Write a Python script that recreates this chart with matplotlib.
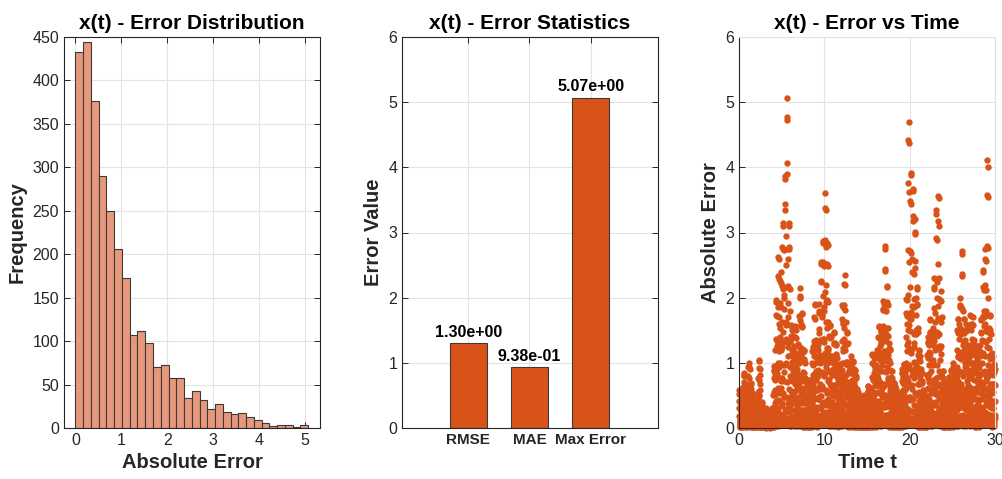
import numpy as np
import matplotlib
matplotlib.use("Agg")
import matplotlib.pyplot as plt

plt.rcParams['font.family'] = ['Liberation Sans', 'DejaVu Sans']

# ---- data ----
title_name = "x(t)"

# histogram of absolute error: 30 bins between 0 and max error
hist_max = 5.07
hist_counts = [433, 444, 376, 290, 250, 206, 173, 107, 112, 98,
               70, 72, 57, 58, 34, 43, 32, 22, 28, 18,
               16, 17, 13, 9, 6, 2, 3, 3, 1, 3]

stat_names = ["RMSE", "MAE", "Max Error"]
stat_values = [1.30, 0.938, 5.07]

# absolute error vs time, two interleaved sample sets every 0.025 (one row = 1 s)
t_step = 0.025
t_start_a = 0.0
err_rows_a = [
    [0.58, 0.52, 0.41, 0.30, 0.18, 0.07, 0.02, 0.10, 0.20, 0.27, 0.33, 0.38, 0.40, 0.36, 0.29, 0.20, 0.10, 0.03, 0.08, 0.22,
     0.38, 0.55, 0.70, 0.81, 0.85, 0.80, 0.66, 0.48, 0.28, 0.08, 0.05, 0.18, 0.32, 0.43, 0.50, 0.47, 0.38, 0.25, 0.12, 0.03],
    [0.05, 0.32, 0.58, 0.80, 0.94, 1.00, 0.93, 0.77, 0.54, 0.26, 0.08, 0.29, 0.48, 0.61, 0.69, 0.68, 0.60, 0.47, 0.29, 0.11,
     0.01, 0.11, 0.24, 0.35, 0.44, 0.50, 0.49, 0.43, 0.32, 0.18, 0.02, 0.11, 0.20, 0.28, 0.33, 0.35, 0.33, 0.27, 0.19, 0.09],
    [0.05, 0.19, 0.31, 0.39, 0.44, 0.44, 0.39, 0.30, 0.19, 0.07, 0.02, 0.23, 0.49, 0.74, 0.92, 1.04, 1.03, 0.90, 0.67, 0.37,
     0.02, 0.13, 0.23, 0.32, 0.38, 0.40, 0.37, 0.31, 0.22, 0.10, 0.04, 0.13, 0.20, 0.26, 0.29, 0.29, 0.26, 0.20, 0.13, 0.05],
    [0.01, 0.07, 0.14, 0.21, 0.26, 0.30, 0.29, 0.26, 0.19, 0.11, 0.01, 0.08, 0.15, 0.20, 0.24, 0.25, 0.23, 0.19, 0.14, 0.07,
     0.02, 0.08, 0.14, 0.17, 0.20, 0.19, 0.17, 0.13, 0.08, 0.03, 0.01, 0.07, 0.14, 0.21, 0.26, 0.30, 0.29, 0.26, 0.19, 0.11],
    [0.05, 0.30, 0.55, 0.76, 0.89, 0.95, 0.88, 0.73, 0.51, 0.25, 0.24, 0.84, 1.36, 1.74, 1.96, 1.94, 1.72, 1.34, 0.84, 0.30,
     0.05, 0.58, 1.25, 1.86, 2.33, 2.62, 2.60, 2.28, 1.70, 0.93, 0.12, 0.77, 1.39, 1.92, 2.26, 2.40, 2.23, 1.85, 1.30, 0.62],
    [0.38, 1.34, 2.18, 2.78, 3.14, 3.10, 2.75, 2.14, 1.34, 0.48, 0.08, 0.86, 1.83, 2.73, 3.43, 3.86, 3.82, 3.35, 2.50, 1.37,
     0.25, 1.62, 2.94, 4.06, 4.77, 5.07, 4.72, 3.90, 2.74, 1.32, 0.38, 1.34, 2.18, 2.78, 3.14, 3.10, 2.75, 2.14, 1.34, 0.48],
    [0.03, 0.35, 0.75, 1.12, 1.41, 1.58, 1.57, 1.38, 1.02, 0.56, 0.08, 0.48, 0.87, 1.20, 1.41, 1.50, 1.40, 1.16, 0.81, 0.39,
     0.19, 0.67, 1.09, 1.39, 1.57, 1.55, 1.38, 1.07, 0.67, 0.24, 0.03, 0.29, 0.61, 0.91, 1.14, 1.29, 1.27, 1.12, 0.83, 0.46],
    [0.11, 0.69, 1.25, 1.72, 2.02, 2.15, 2.00, 1.66, 1.16, 0.56, 0.22, 0.76, 1.22, 1.57, 1.76, 1.75, 1.55, 1.21, 0.76, 0.27,
     0.02, 0.26, 0.56, 0.84, 1.06, 1.19, 1.18, 1.03, 0.77, 0.42, 0.04, 0.24, 0.44, 0.60, 0.71, 0.75, 0.70, 0.58, 0.41, 0.20],
    [0.08, 0.29, 0.48, 0.61, 0.69, 0.68, 0.60, 0.47, 0.29, 0.11, 0.02, 0.17, 0.35, 0.53, 0.66, 0.74, 0.74, 0.65, 0.48, 0.26,
     0.06, 0.40, 0.73, 1.00, 1.18, 1.25, 1.16, 0.96, 0.68, 0.33, 0.23, 0.82, 1.33, 1.70, 1.91, 1.89, 1.68, 1.31, 0.82, 0.29],
    [0.03, 0.28, 0.59, 0.88, 1.10, 1.24, 1.23, 1.08, 0.80, 0.44, 0.10, 0.61, 1.10, 1.52, 1.79, 1.90, 1.77, 1.46, 1.03, 0.49,
     0.31, 1.09, 1.77, 2.26, 2.55, 2.52, 2.24, 1.74, 1.09, 0.39, 0.06, 0.64, 1.36, 2.03, 2.55, 2.87, 2.84, 2.49, 1.86, 1.02],
    [0.18, 1.15, 2.09, 2.88, 3.38, 3.60, 3.35, 2.77, 1.94, 0.94, 0.35, 1.22, 1.97, 2.52, 2.84, 2.81, 2.49, 1.94, 1.22, 0.44,
     0.03, 0.35, 0.75, 1.12, 1.41, 1.58, 1.57, 1.38, 1.02, 0.56, 0.06, 0.35, 0.64, 0.88, 1.03, 1.10, 1.02, 0.85, 0.59, 0.29],
    [0.18, 0.63, 1.02, 1.31, 1.47, 1.46, 1.29, 1.01, 0.63, 0.23, 0.03, 0.29, 0.61, 0.91, 1.14, 1.29, 1.27, 1.12, 0.83, 0.46,
     0.05, 0.29, 0.52, 0.72, 0.85, 0.90, 0.84, 0.69, 0.49, 0.23, 0.12, 0.42, 0.68, 0.87, 0.98, 0.97, 0.86, 0.67, 0.42, 0.15],
    [0.04, 0.42, 0.89, 1.33, 1.67, 1.88, 1.86, 1.63, 1.22, 0.67, 0.12, 0.75, 1.36, 1.88, 2.21, 2.35, 2.19, 1.81, 1.27, 0.61,
     0.18, 0.63, 1.02, 1.31, 1.47, 1.46, 1.29, 1.01, 0.63, 0.23, 0.02, 0.22, 0.47, 0.70, 0.88, 0.99, 0.98, 0.86, 0.64, 0.35],
    [0.06, 0.35, 0.64, 0.88, 1.03, 1.10, 1.02, 0.85, 0.59, 0.29, 0.13, 0.44, 0.71, 0.91, 1.03, 1.02, 0.90, 0.70, 0.44, 0.16,
     0.02, 0.20, 0.42, 0.63, 0.79, 0.89, 0.88, 0.77, 0.58, 0.32, 0.03, 0.19, 0.35, 0.48, 0.56, 0.60, 0.56, 0.46, 0.32, 0.16],
    [0.06, 0.21, 0.34, 0.44, 0.49, 0.49, 0.43, 0.34, 0.21, 0.08, 0.01, 0.09, 0.19, 0.28, 0.35, 0.40, 0.39, 0.34, 0.26, 0.14,
     0.03, 0.16, 0.29, 0.40, 0.47, 0.50, 0.47, 0.39, 0.27, 0.13, 0.04, 0.13, 0.20, 0.26, 0.29, 0.29, 0.26, 0.20, 0.13, 0.05],
    [0.01, 0.14, 0.31, 0.46, 0.57, 0.64, 0.64, 0.56, 0.42, 0.23, 0.03, 0.19, 0.35, 0.48, 0.56, 0.60, 0.56, 0.46, 0.32, 0.16,
     0.14, 0.48, 0.78, 1.00, 1.13, 1.12, 0.99, 0.77, 0.48, 0.17, 0.02, 0.24, 0.52, 0.77, 0.97, 1.09, 1.08, 0.95, 0.70, 0.39],
    [0.06, 0.38, 0.70, 0.96, 1.13, 1.20, 1.12, 0.92, 0.65, 0.31, 0.19, 0.67, 1.09, 1.39, 1.57, 1.55, 1.38, 1.07, 0.67, 0.24,
     0.03, 0.33, 0.71, 1.05, 1.32, 1.49, 1.47, 1.29, 0.96, 0.53, 0.10, 0.62, 1.13, 1.56, 1.83, 1.95, 1.81, 1.50, 1.05, 0.51],
    [0.34, 1.18, 1.90, 2.44, 2.74, 2.80, 2.41, 1.88, 1.18, 0.42, 0.04, 0.48, 1.03, 1.54, 1.94, 2.18, 2.16, 1.89, 1.41, 0.77,
     0.07, 0.42, 0.75, 1.04, 1.22, 1.30, 1.21, 1.00, 0.70, 0.34, 0.11, 0.38, 0.61, 0.78, 0.88, 0.87, 0.77, 0.60, 0.38, 0.14],
    [0.01, 0.15, 0.33, 0.49, 0.62, 0.69, 0.69, 0.60, 0.45, 0.25, 0.03, 0.19, 0.35, 0.48, 0.56, 0.60, 0.56, 0.46, 0.32, 0.16,
     0.06, 0.21, 0.34, 0.44, 0.49, 0.49, 0.43, 0.34, 0.21, 0.08, 0.01, 0.12, 0.26, 0.39, 0.48, 0.54, 0.54, 0.47, 0.35, 0.19],
    [0.05, 0.29, 0.52, 0.72, 0.85, 0.90, 0.84, 0.69, 0.49, 0.23, 0.12, 0.42, 0.68, 0.87, 0.98, 0.97, 0.86, 0.67, 0.42, 0.15,
     0.04, 0.44, 0.94, 1.40, 1.76, 1.98, 1.96, 1.72, 1.28, 0.70, 0.24, 1.50, 2.73, 3.76, 4.42, 4.70, 4.37, 3.62, 2.54, 1.22],
    [0.48, 1.68, 2.72, 3.48, 3.92, 3.88, 3.44, 2.68, 1.68, 0.60, 0.07, 0.81, 1.74, 2.59, 3.26, 3.66, 3.63, 3.18, 2.37, 1.30,
     0.16, 1.02, 1.86, 2.56, 3.01, 3.20, 2.98, 2.46, 1.73, 0.83, 0.26, 0.92, 1.50, 1.91, 2.16, 2.13, 1.89, 1.47, 0.92, 0.33],
    [0.02, 0.26, 0.56, 0.84, 1.06, 1.19, 1.18, 1.03, 0.77, 0.42, 0.05, 0.29, 0.52, 0.72, 0.85, 0.90, 0.84, 0.69, 0.49, 0.23,
     0.07, 0.25, 0.41, 0.52, 0.59, 0.58, 0.52, 0.40, 0.25, 0.09, 0.01, 0.08, 0.16, 0.25, 0.31, 0.35, 0.34, 0.30, 0.22, 0.12],
    [0.07, 0.45, 0.81, 1.12, 1.32, 1.40, 1.30, 1.08, 0.76, 0.36, 0.20, 0.71, 1.16, 1.48, 1.67, 1.65, 1.46, 1.14, 0.71, 0.26,
     0.03, 0.33, 0.71, 1.05, 1.32, 1.49, 1.47, 1.29, 0.96, 0.53, 0.12, 0.74, 1.33, 1.84, 2.16, 2.30, 2.14, 1.77, 1.24, 0.60],
    [0.40, 1.41, 2.28, 2.91, 3.28, 3.35, 2.88, 2.24, 1.41, 0.50, 0.07, 0.79, 1.69, 2.52, 3.17, 3.56, 3.53, 3.10, 2.30, 1.26,
     0.11, 0.67, 1.22, 1.68, 1.97, 2.10, 1.95, 1.62, 1.13, 0.55, 0.11, 0.38, 0.61, 0.78, 0.88, 0.87, 0.77, 0.60, 0.38, 0.14],
    [0.01, 0.15, 0.33, 0.49, 0.62, 0.69, 0.69, 0.60, 0.45, 0.25, 0.03, 0.19, 0.35, 0.48, 0.56, 0.60, 0.56, 0.46, 0.32, 0.16,
     0.10, 0.34, 0.54, 0.70, 0.78, 0.78, 0.69, 0.54, 0.34, 0.12, 0.02, 0.20, 0.42, 0.63, 0.79, 0.89, 0.88, 0.77, 0.58, 0.32],
    [0.05, 0.32, 0.58, 0.80, 0.94, 1.00, 0.93, 0.77, 0.54, 0.26, 0.11, 0.38, 0.61, 0.78, 0.88, 0.87, 0.77, 0.60, 0.38, 0.14,
     0.03, 0.37, 0.80, 1.19, 1.50, 1.68, 1.67, 1.46, 1.09, 0.60, 0.10, 0.64, 1.16, 1.60, 1.88, 2.00, 1.86, 1.54, 1.08, 0.52],
    [0.33, 1.14, 1.85, 2.37, 2.67, 2.72, 2.34, 1.82, 1.14, 0.41, 0.03, 0.37, 0.80, 1.19, 1.50, 1.68, 1.67, 1.46, 1.09, 0.60,
     0.08, 0.51, 0.93, 1.28, 1.50, 1.60, 1.49, 1.23, 0.86, 0.42, 0.16, 0.55, 0.88, 1.13, 1.27, 1.26, 1.12, 0.87, 0.55, 0.20],
    [0.04, 0.39, 0.82, 1.23, 1.54, 1.73, 1.72, 1.51, 1.12, 0.61, 0.09, 0.54, 0.99, 1.36, 1.60, 1.70, 1.58, 1.31, 0.92, 0.44,
     0.16, 0.55, 0.88, 1.13, 1.27, 1.26, 1.12, 0.87, 0.55, 0.20, 0.02, 0.26, 0.56, 0.84, 1.06, 1.19, 1.18, 1.03, 0.77, 0.42],
    [0.06, 0.38, 0.70, 0.96, 1.13, 1.20, 1.12, 0.92, 0.65, 0.31, 0.20, 0.71, 1.16, 1.48, 1.67, 1.65, 1.46, 1.14, 0.71, 0.26,
     0.05, 0.54, 1.15, 1.72, 2.16, 2.43, 2.40, 2.11, 1.57, 0.86, 0.14, 0.88, 1.60, 2.20, 2.59, 2.75, 2.56, 2.12, 1.49, 0.72],
    [0.49, 1.73, 2.80, 3.58, 4.12, 4.00, 3.54, 2.76, 1.73, 0.62, 0.04, 0.39, 0.82, 1.23, 1.54, 1.73, 1.72, 1.51, 1.12, 0.61,
     0.06, 0.37, 0.67, 0.92, 1.08, 1.15, 1.07, 0.89, 0.62, 0.30, 0.12, 0.42, 0.68, 0.87, 0.98, 0.97, 0.86, 0.67, 0.42, 0.15],
    [0.20],
]

t_start_b = 0.0125
err_rows_b = [
    [0.31, 0.19, 0.09, 0.03, 0.01, 0.06, 0.14, 0.24, 0.37, 0.50, 0.60, 0.39, 0.21, 0.08, 0.02, 0.05, 0.14, 0.28, 0.46, 0.63,
     0.37, 0.23, 0.11, 0.03, 0.01, 0.07, 0.16, 0.29, 0.44, 0.60, 0.38, 0.25, 0.14, 0.05, 0.01, 0.03, 0.09, 0.18, 0.30, 0.41],
    [0.56, 0.34, 0.16, 0.05, 0.02, 0.10, 0.24, 0.43, 0.67, 0.90, 0.51, 0.33, 0.18, 0.07, 0.02, 0.04, 0.12, 0.24, 0.40, 0.54,
     0.28, 0.17, 0.08, 0.02, 0.01, 0.05, 0.12, 0.22, 0.33, 0.45, 0.34, 0.22, 0.12, 0.05, 0.01, 0.03, 0.08, 0.16, 0.26, 0.36],
    [0.34, 0.21, 0.10, 0.03, 0.01, 0.06, 0.15, 0.26, 0.41, 0.55, 0.77, 0.50, 0.27, 0.11, 0.03, 0.06, 0.18, 0.36, 0.59, 0.81,
     0.25, 0.15, 0.07, 0.02, 0.01, 0.04, 0.11, 0.19, 0.30, 0.40, 0.26, 0.17, 0.09, 0.04, 0.01, 0.02, 0.06, 0.12, 0.20, 0.27],
    [0.12, 0.08, 0.04, 0.01, 0.00, 0.02, 0.05, 0.10, 0.15, 0.20, 0.21, 0.14, 0.08, 0.03, 0.01, 0.02, 0.05, 0.10, 0.17, 0.23,
     0.12, 0.08, 0.04, 0.01, 0.00, 0.02, 0.05, 0.10, 0.15, 0.20, 0.21, 0.14, 0.08, 0.03, 0.01, 0.02, 0.05, 0.10, 0.17, 0.23],
    [0.50, 0.30, 0.14, 0.04, 0.02, 0.09, 0.22, 0.38, 0.59, 0.80, 1.19, 0.77, 0.42, 0.17, 0.04, 0.10, 0.28, 0.56, 0.92, 1.26,
     0.99, 0.61, 0.29, 0.08, 0.03, 0.18, 0.43, 0.77, 1.18, 1.60, 1.53, 0.99, 0.54, 0.22, 0.05, 0.13, 0.36, 0.72, 1.19, 1.62],
    [1.24, 0.76, 0.36, 0.10, 0.04, 0.22, 0.54, 0.96, 1.48, 2.00, 2.04, 1.32, 0.72, 0.29, 0.07, 0.17, 0.48, 0.96, 1.58, 2.16,
     1.61, 0.99, 0.47, 0.13, 0.05, 0.29, 0.70, 1.25, 1.92, 2.60, 1.70, 1.10, 0.60, 0.24, 0.06, 0.14, 0.40, 0.80, 1.32, 1.80],
    [0.93, 0.57, 0.27, 0.08, 0.03, 0.17, 0.41, 0.72, 1.11, 1.50, 1.19, 0.77, 0.42, 0.17, 0.04, 0.10, 0.28, 0.56, 0.92, 1.26,
     0.93, 0.57, 0.27, 0.08, 0.03, 0.17, 0.41, 0.72, 1.11, 1.50, 1.02, 0.66, 0.36, 0.14, 0.04, 0.08, 0.24, 0.48, 0.79, 1.08],
    [0.99, 0.61, 0.29, 0.08, 0.03, 0.18, 0.43, 0.77, 1.18, 1.60, 1.11, 0.72, 0.39, 0.16, 0.04, 0.09, 0.26, 0.52, 0.86, 1.17,
     0.62, 0.38, 0.18, 0.05, 0.02, 0.11, 0.27, 0.48, 0.74, 1.00, 0.60, 0.39, 0.21, 0.08, 0.02, 0.05, 0.14, 0.28, 0.46, 0.63],
    [0.43, 0.27, 0.13, 0.04, 0.01, 0.08, 0.19, 0.34, 0.52, 0.70, 0.51, 0.33, 0.18, 0.07, 0.02, 0.04, 0.12, 0.24, 0.40, 0.54,
     0.68, 0.42, 0.20, 0.06, 0.02, 0.12, 0.30, 0.53, 0.81, 1.10, 1.28, 0.83, 0.45, 0.18, 0.05, 0.11, 0.30, 0.60, 0.99, 1.35],
    [0.74, 0.46, 0.22, 0.06, 0.02, 0.13, 0.32, 0.58, 0.89, 1.20, 1.28, 0.83, 0.45, 0.18, 0.05, 0.11, 0.30, 0.60, 0.99, 1.35,
     1.12, 0.68, 0.32, 0.09, 0.04, 0.20, 0.49, 0.86, 1.33, 1.80, 1.70, 1.10, 0.60, 0.24, 0.06, 0.14, 0.40, 0.80, 1.32, 1.80],
    [1.36, 0.84, 0.40, 0.11, 0.04, 0.24, 0.59, 1.06, 1.63, 2.20, 1.53, 0.99, 0.54, 0.22, 0.05, 0.13, 0.36, 0.72, 1.19, 1.62,
     0.87, 0.53, 0.25, 0.07, 0.03, 0.15, 0.38, 0.67, 1.04, 1.40, 0.85, 0.55, 0.30, 0.12, 0.03, 0.07, 0.20, 0.40, 0.66, 0.90],
    [0.81, 0.49, 0.23, 0.07, 0.03, 0.14, 0.35, 0.62, 0.96, 1.30, 1.02, 0.66, 0.36, 0.14, 0.04, 0.08, 0.24, 0.48, 0.79, 1.08,
     0.56, 0.34, 0.16, 0.05, 0.02, 0.10, 0.24, 0.43, 0.67, 0.90, 0.77, 0.50, 0.27, 0.11, 0.03, 0.06, 0.18, 0.36, 0.59, 0.81],
    [0.99, 0.61, 0.29, 0.08, 0.03, 0.18, 0.43, 0.77, 1.18, 1.60, 1.53, 0.99, 0.54, 0.22, 0.05, 0.13, 0.36, 0.72, 1.19, 1.62,
     0.81, 0.49, 0.23, 0.07, 0.03, 0.14, 0.35, 0.62, 0.96, 1.30, 0.85, 0.55, 0.30, 0.12, 0.03, 0.07, 0.20, 0.40, 0.66, 0.90],
    [0.62, 0.38, 0.18, 0.05, 0.02, 0.11, 0.27, 0.48, 0.74, 1.00, 0.85, 0.55, 0.30, 0.12, 0.03, 0.07, 0.20, 0.40, 0.66, 0.90,
     0.50, 0.30, 0.14, 0.04, 0.02, 0.09, 0.22, 0.38, 0.59, 0.80, 0.51, 0.33, 0.18, 0.07, 0.02, 0.04, 0.12, 0.24, 0.40, 0.54],
    [0.28, 0.17, 0.08, 0.02, 0.01, 0.05, 0.12, 0.22, 0.33, 0.45, 0.34, 0.22, 0.12, 0.05, 0.01, 0.03, 0.08, 0.16, 0.26, 0.36,
     0.28, 0.17, 0.08, 0.02, 0.01, 0.05, 0.12, 0.22, 0.33, 0.45, 0.26, 0.17, 0.09, 0.04, 0.01, 0.02, 0.06, 0.12, 0.20, 0.27],
    [0.37, 0.23, 0.11, 0.03, 0.01, 0.07, 0.16, 0.29, 0.44, 0.60, 0.47, 0.30, 0.17, 0.07, 0.02, 0.04, 0.11, 0.22, 0.36, 0.50,
     0.62, 0.38, 0.18, 0.05, 0.02, 0.11, 0.27, 0.48, 0.74, 1.00, 0.85, 0.55, 0.30, 0.12, 0.03, 0.07, 0.20, 0.40, 0.66, 0.90],
    [0.68, 0.42, 0.20, 0.06, 0.02, 0.12, 0.30, 0.53, 0.81, 1.10, 1.19, 0.77, 0.42, 0.17, 0.04, 0.10, 0.28, 0.56, 0.92, 1.26,
     0.87, 0.53, 0.25, 0.07, 0.03, 0.15, 0.38, 0.67, 1.04, 1.40, 1.36, 0.88, 0.48, 0.19, 0.05, 0.11, 0.32, 0.64, 1.06, 1.44],
    [1.12, 0.68, 0.32, 0.09, 0.04, 0.20, 0.49, 0.86, 1.33, 1.80, 1.45, 0.94, 0.51, 0.20, 0.05, 0.12, 0.34, 0.68, 1.12, 1.53,
     0.74, 0.46, 0.22, 0.06, 0.02, 0.13, 0.32, 0.58, 0.89, 1.20, 0.68, 0.44, 0.24, 0.10, 0.02, 0.06, 0.16, 0.32, 0.53, 0.72],
    [0.40, 0.25, 0.12, 0.03, 0.01, 0.07, 0.18, 0.31, 0.48, 0.65, 0.47, 0.30, 0.17, 0.07, 0.02, 0.04, 0.11, 0.22, 0.36, 0.50,
     0.31, 0.19, 0.09, 0.03, 0.01, 0.06, 0.14, 0.24, 0.37, 0.50, 0.43, 0.28, 0.15, 0.06, 0.02, 0.04, 0.10, 0.20, 0.33, 0.45],
    [0.50, 0.30, 0.14, 0.04, 0.02, 0.09, 0.22, 0.38, 0.59, 0.80, 0.77, 0.50, 0.27, 0.11, 0.03, 0.06, 0.18, 0.36, 0.59, 0.81,
     0.99, 0.61, 0.29, 0.08, 0.03, 0.18, 0.43, 0.77, 1.18, 1.60, 2.04, 1.32, 0.72, 0.29, 0.07, 0.17, 0.48, 0.96, 1.58, 2.16],
    [1.49, 0.91, 0.43, 0.12, 0.05, 0.26, 0.65, 1.15, 1.78, 2.40, 1.87, 1.21, 0.66, 0.26, 0.07, 0.15, 0.44, 0.88, 1.45, 1.98,
     1.24, 0.76, 0.36, 0.10, 0.04, 0.22, 0.54, 0.96, 1.48, 2.00, 1.45, 0.94, 0.51, 0.20, 0.05, 0.12, 0.34, 0.68, 1.12, 1.53],
    [0.68, 0.42, 0.20, 0.06, 0.02, 0.12, 0.30, 0.53, 0.81, 1.10, 0.68, 0.44, 0.24, 0.10, 0.02, 0.06, 0.16, 0.32, 0.53, 0.72,
     0.34, 0.21, 0.10, 0.03, 0.01, 0.06, 0.15, 0.26, 0.41, 0.55, 0.30, 0.19, 0.11, 0.04, 0.01, 0.02, 0.07, 0.14, 0.23, 0.32],
    [0.81, 0.49, 0.23, 0.07, 0.03, 0.14, 0.35, 0.62, 0.96, 1.30, 1.28, 0.83, 0.45, 0.18, 0.05, 0.11, 0.30, 0.60, 0.99, 1.35,
     0.87, 0.53, 0.25, 0.07, 0.03, 0.15, 0.38, 0.67, 1.04, 1.40, 1.53, 0.99, 0.54, 0.22, 0.05, 0.13, 0.36, 0.72, 1.19, 1.62],
    [1.24, 0.76, 0.36, 0.10, 0.04, 0.22, 0.54, 0.96, 1.48, 2.00, 1.87, 1.21, 0.66, 0.26, 0.07, 0.15, 0.44, 0.88, 1.45, 1.98,
     1.05, 0.65, 0.31, 0.09, 0.03, 0.19, 0.46, 0.82, 1.26, 1.70, 0.68, 0.44, 0.24, 0.10, 0.02, 0.06, 0.16, 0.32, 0.53, 0.72],
    [0.40, 0.25, 0.12, 0.03, 0.01, 0.07, 0.18, 0.31, 0.48, 0.65, 0.51, 0.33, 0.18, 0.07, 0.02, 0.04, 0.12, 0.24, 0.40, 0.54,
     0.47, 0.29, 0.14, 0.04, 0.02, 0.08, 0.20, 0.36, 0.56, 0.75, 0.72, 0.47, 0.26, 0.10, 0.03, 0.06, 0.17, 0.34, 0.56, 0.77],
    [0.56, 0.34, 0.16, 0.05, 0.02, 0.10, 0.24, 0.43, 0.67, 0.90, 0.72, 0.47, 0.26, 0.10, 0.03, 0.06, 0.17, 0.34, 0.56, 0.77,
     0.93, 0.57, 0.27, 0.08, 0.03, 0.17, 0.41, 0.72, 1.11, 1.50, 1.36, 0.88, 0.48, 0.19, 0.05, 0.11, 0.32, 0.64, 1.06, 1.44],
    [1.12, 0.68, 0.32, 0.09, 0.04, 0.20, 0.49, 0.86, 1.33, 1.80, 1.28, 0.83, 0.45, 0.18, 0.05, 0.11, 0.30, 0.60, 0.99, 1.35,
     0.93, 0.57, 0.27, 0.08, 0.03, 0.17, 0.41, 0.72, 1.11, 1.50, 1.02, 0.66, 0.36, 0.14, 0.04, 0.08, 0.24, 0.48, 0.79, 1.08],
    [0.99, 0.61, 0.29, 0.08, 0.03, 0.18, 0.43, 0.77, 1.18, 1.60, 1.28, 0.83, 0.45, 0.18, 0.05, 0.11, 0.30, 0.60, 0.99, 1.35,
     0.74, 0.46, 0.22, 0.06, 0.02, 0.13, 0.32, 0.58, 0.89, 1.20, 0.94, 0.61, 0.33, 0.13, 0.03, 0.08, 0.22, 0.44, 0.73, 0.99],
    [0.68, 0.42, 0.20, 0.06, 0.02, 0.12, 0.30, 0.53, 0.81, 1.10, 1.28, 0.83, 0.45, 0.18, 0.05, 0.11, 0.30, 0.60, 0.99, 1.35,
     1.12, 0.68, 0.32, 0.09, 0.04, 0.20, 0.49, 0.86, 1.33, 1.80, 1.70, 1.10, 0.60, 0.24, 0.06, 0.14, 0.40, 0.80, 1.32, 1.80],
    [1.24, 0.76, 0.36, 0.10, 0.04, 0.22, 0.54, 0.96, 1.48, 2.00, 1.36, 0.88, 0.48, 0.19, 0.05, 0.11, 0.32, 0.64, 1.06, 1.44,
     0.68, 0.42, 0.20, 0.06, 0.02, 0.12, 0.30, 0.53, 0.81, 1.10, 0.85, 0.55, 0.30, 0.12, 0.03, 0.07, 0.20, 0.40, 0.66, 0.90],
]

# ---- styling ----
orange = "#D95319"
hist_face = "#E8987A"
tick_col = "#262626"
grid_col = "#E3E3E3"

err_a = np.concatenate([np.array(r) for r in err_rows_a])
err_b = np.concatenate([np.array(r) for r in err_rows_b])
t_a = t_start_a + t_step * np.arange(len(err_a))
t_b = t_start_b + t_step * np.arange(len(err_b))
t = np.concatenate([t_a, t_b])
err = np.concatenate([err_a, err_b])

fig = plt.figure(figsize=(10.03, 4.79), dpi=100)
W, H = 1003, 479


def make_ax(x0, x1, y0, y1):
    return fig.add_axes([x0 / W, 1 - y1 / H, (x1 - x0) / W, (y1 - y0) / H])


def style(ax, light_box=False):
    ax.grid(True, color=grid_col, linewidth=0.8)
    ax.set_axisbelow(True)
    ax.tick_params(direction="in", length=4, width=0.7, colors=tick_col,
                   labelsize=11.5, top=not light_box, right=not light_box)
    for side in ax.spines:
        ax.spines[side].set_color(tick_col)
        ax.spines[side].set_linewidth(0.8)
    if light_box:
        ax.spines["top"].set_color(grid_col)
        ax.spines["right"].set_color(grid_col)


title_kw = dict(fontsize=15, fontweight="bold", pad=6)
label_kw = dict(fontsize=14.5, fontweight="bold", color="#262626")

# 1) histogram
ax1 = make_ax(64, 320, 37, 428)
edges = np.linspace(0, hist_max, len(hist_counts) + 1)
ax1.bar(edges[:-1], hist_counts, width=np.diff(edges), align="edge",
        color=hist_face, edgecolor="#3a3a3a", linewidth=0.8, zorder=2)
ax1.set_xlim(-0.25, 5.33)
ax1.set_ylim(0, 450)
ax1.set_yticks(np.arange(0, 451, 50))
ax1.set_xticks(np.arange(0, 6, 1))
style(ax1)
ax1.set_title(f"{title_name} - Error Distribution", **title_kw)
ax1.set_xlabel("Absolute Error", **label_kw)
ax1.set_ylabel("Frequency", **label_kw)

# 2) error statistics
ax2 = make_ax(402, 658, 37, 428)
pos = np.arange(1, len(stat_names) + 1)
ax2.bar(pos, stat_values, width=0.6, color=orange, edgecolor="#3a3a3a",
        linewidth=0.8, zorder=2)
for p, v in zip(pos, stat_values):
    ax2.text(p, v + 0.05, f"{v:.2e}", ha="center", va="bottom",
             fontsize=11.5, fontweight="bold")
ax2.set_xlim(-0.08, 4.1)
ax2.set_ylim(0, 6)
ax2.set_xticks(pos)
ax2.set_xticklabels(stat_names, fontweight="bold")
ax2.set_yticks(np.arange(0, 7, 1))
style(ax2)
ax2.tick_params(axis="x", labelsize=11)
ax2.set_title(f"{title_name} - Error Statistics", **title_kw)
ax2.set_ylabel("Error Value", **label_kw)

# 3) error vs time
ax3 = make_ax(739, 995, 37, 428)
ax3.scatter(t, err, s=21, color=orange, linewidths=0, zorder=2,
            clip_on=False)
ax3.set_xlim(0, 30)
ax3.set_ylim(0, 6)
ax3.set_xticks([0, 10, 20, 30])
ax3.set_yticks(np.arange(0, 7, 1))
style(ax3, light_box=True)
ax3.set_title(f"{title_name} - Error vs Time", **title_kw)
ax3.set_xlabel("Time t", **label_kw)
ax3.set_ylabel("Absolute Error", **label_kw)

fig.savefig("out.png", dpi=100)
